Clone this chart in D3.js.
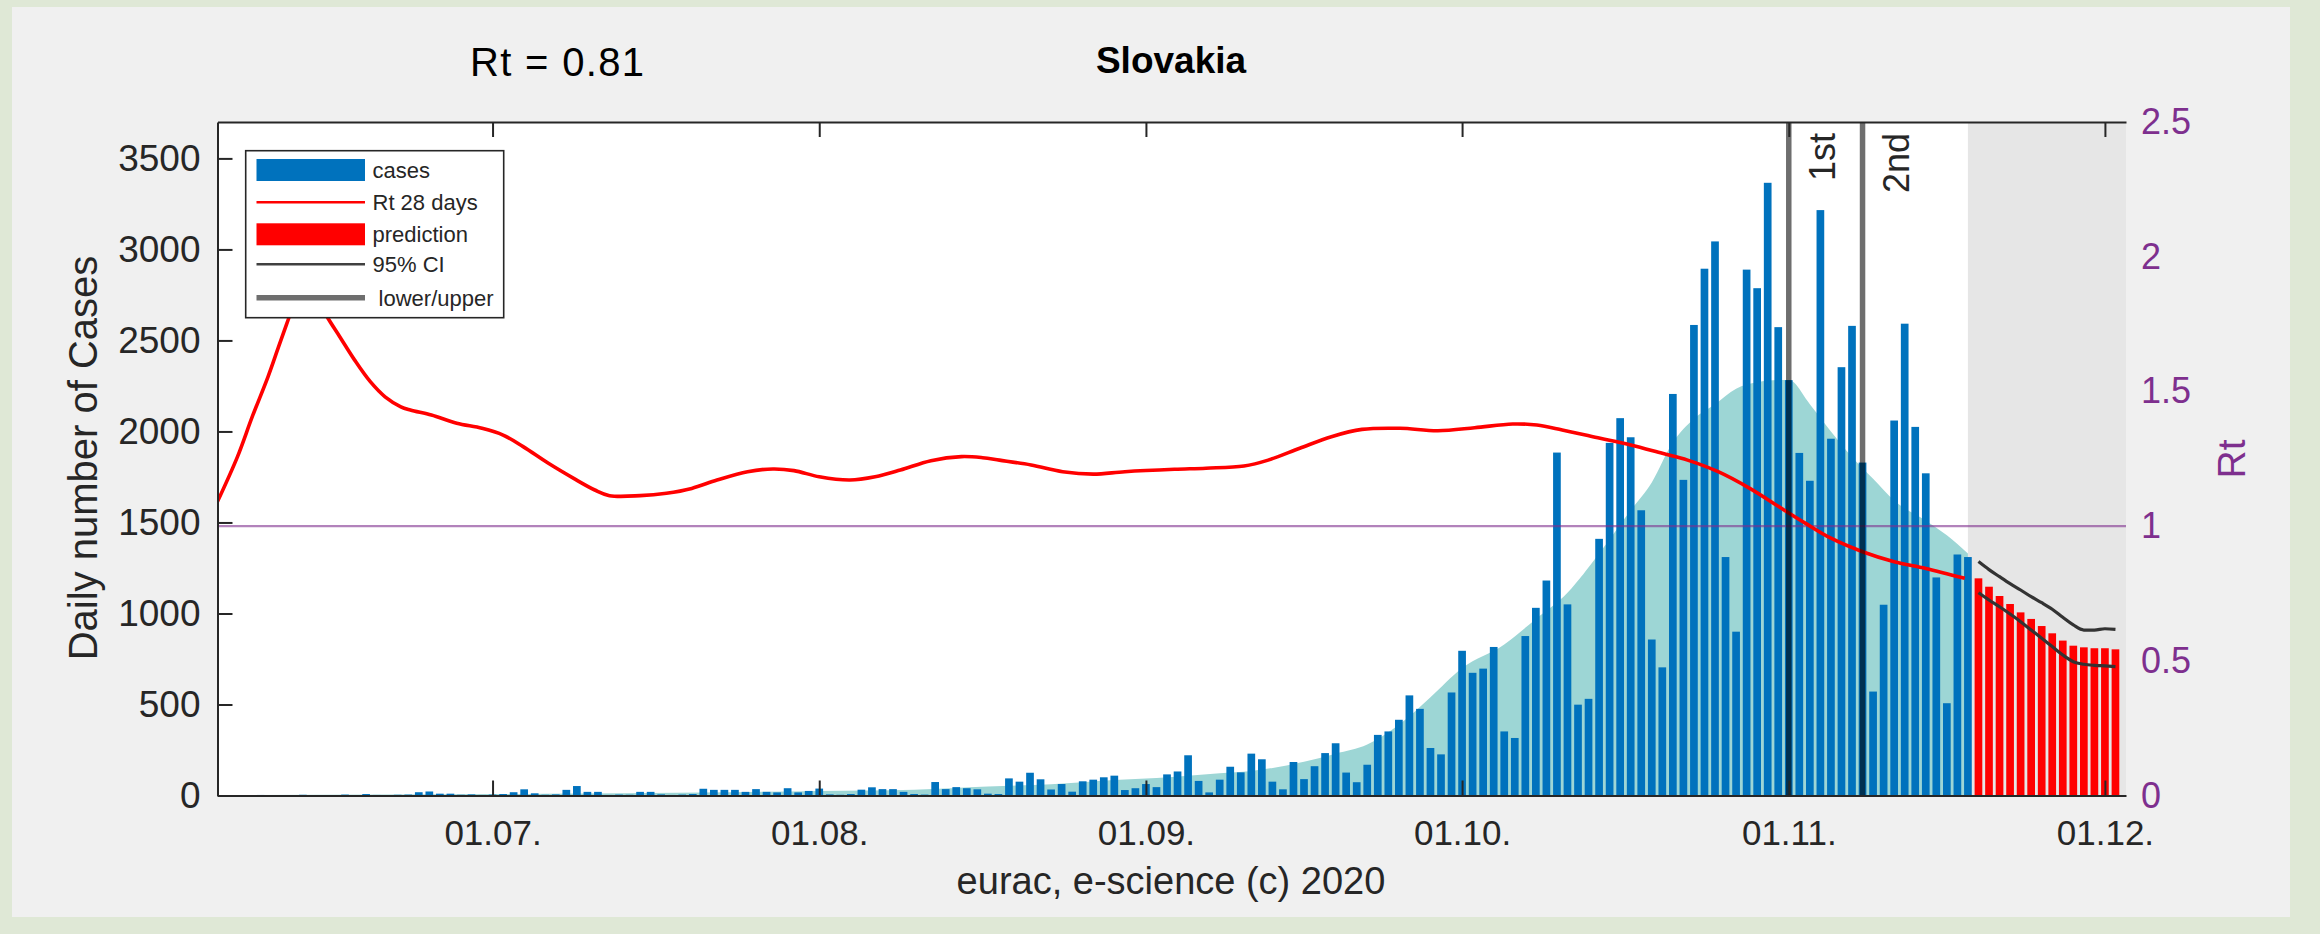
<!DOCTYPE html>
<html><head><meta charset="utf-8">
<script src="https://cdn.jsdelivr.net/npm/d3@7"></script>
<style>
html,body{margin:0;padding:0;background:#dfe8d6;}
svg{display:block;}
</style></head><body>
<svg id="chart" width="2320" height="934"></svg>
<script>
// ---------------- DATA ----------------
const caseStart = "2020-06-06";
const cases = [
  2,0,1,3,0,2,1,4,0,1,
  2,5,1,8,3,2,4,5,18,22,
  10,10,4,6,3,5,8,18,34,12,
  4,6,31,52,20,20,3,5,4,20,
  20,6,3,5,8,37,31,31,31,20,
  35,20,17,40,17,25,38,6,4,8,
  32,45,35,35,20,8,5,74,35,46,
  40,34,10,8,94,76,125,89,33,63,
  21,78,87,100,109,30,40,63,46,116,
  132,221,80,17,87,158,127,230,199,76,
  34,184,90,161,233,287,126,73,169,333,
  352,416,550,476,261,226,566,795,674,697,
  816,352,316,876,1031,1181,1884,1050,499,531,
  1410,1937,2073,1968,1567,857,704,2206,1734,2585,
  2894,3044,1310,900,2889,2787,3366,2573,2282,1882,
  1729,3216,1960,2353,2580,1829,571,1048,2060,2592,
  2025,1770,1198,507,1324,1310
];
const predStart = "2020-11-19";
const prediction = [1193,1147,1096,1052,1006,970,931,891,851,823,814,809,809,803];
const ciUpper = [1285,1241,1202,1164,1129,1092,1059,1023,979,937,909,909,916,913];
const ciLower = [1114,1074,1037,997,955,909,864,818,772,735,721,715,712,708];

// Rt curve: days since 2020-06-01, Rt value
const rtDays = [3.9,5.8,7.2,8.7,9.7,10.6,11.5,12.4,13.3,14.3,15.5,16.9,18.4,19.8,21.3,22.2,24.2,26.6,29.0,31.0,32.9,35.3,37.7,39.7,41.1,44.0,46.5,48.9,51.3,54.2,56.6,58.6,61.0,63.9,66.3,68.7,71.6,74.5,76.5,78.1,81.1,84.1,87.0,90.0,94.7,97.7,101.3,103.6,106.6,109.6,112.5,116.1,119.7,123.2,126.8,129.1,131.5,135.1,138.0,141.0,143.4,146.3,149.3,152.3,154.6,157.0,160.0,163.0,166.0,169.7];
const rtValues = [1.091,1.258,1.406,1.555,1.666,1.765,1.86,1.89,1.85,1.777,1.703,1.617,1.536,1.480,1.443,1.431,1.412,1.382,1.363,1.338,1.295,1.233,1.177,1.134,1.113,1.113,1.122,1.140,1.171,1.202,1.212,1.206,1.183,1.171,1.183,1.208,1.243,1.258,1.254,1.245,1.227,1.202,1.193,1.202,1.211,1.215,1.223,1.245,1.289,1.332,1.359,1.363,1.354,1.365,1.379,1.375,1.357,1.326,1.301,1.270,1.245,1.202,1.140,1.066,1.010,0.955,0.905,0.868,0.843,0.806];

// smoothed cases (teal area): days since 2020-06-01, value
const smoothDays = [5,20,35,50,61,70,77,83,89,93,99,102,107,110,113,116,119,122,126,129,132,135,138,140,142,144,146,148,150,152,153,155,157,159,161,163,166,168,170];
const smoothValues = [2,5,10,17,25,32,50,62,85,96,122,135,185,230,280,388,540,700,830,970,1114,1329,1567,1720,1940,2070,2150,2235,2270,2282,2282,2150,2000,1860,1740,1620,1510,1430,1329];

const xTickDates = ["2020-07-01","2020-08-01","2020-09-01","2020-10-01","2020-11-01","2020-12-01"];
const xTickLabels = ["01.07.","01.08.","01.09.","01.10.","01.11.","01.12."];
const yLeftTicks = [0,500,1000,1500,2000,2500,3000,3500];
const yRightTicks = [0,0.5,1,1.5,2,2.5];
const yRightLabels = ["0","0.5","1","1.5","2","2.5"];
const markerDates = ["2020-11-01","2020-11-08"];
const markerLabels = ["1st","2nd"];
const forecastFrom = "2020-11-18";
const legendLabels = ["cases","Rt 28 days","prediction","95% CI"," lower/upper"];

// ---------------- DRAW ----------------
const svg = d3.select("#chart");
const FONT = "'Liberation Sans', Arial, Helvetica, sans-serif";
const DAY = 864e5, base = Date.UTC(2020,5,1);
const toDate = d => new Date(base + d*DAY);
const parse = s => new Date(s + "T00:00:00Z");
const addDays = (s,i) => new Date(parse(s).getTime() + i*DAY);

const L = 217.5, R = 2126, T = 122, B = 795.5;
const x = d3.scaleUtc().domain([toDate(3.9), toDate(185)]).range([L, R]);
const yL = d3.scaleLinear().domain([0, 3700]).range([B, T]);
const yR = d3.scaleLinear().domain([0, 2.5]).range([B, T]);

// figure background
svg.append("rect").attr("x",12).attr("y",7).attr("width",2278).attr("height",910).attr("fill","#f0f0f0");

svg.append("defs").append("clipPath").attr("id","plotclip")
  .append("rect").attr("x",L).attr("y",T).attr("width",R-L).attr("height",B-T);

svg.append("rect").attr("x",L).attr("y",T).attr("width",R-L).attr("height",B-T).attr("fill","#ffffff");

const plot = svg.append("g").attr("clip-path","url(#plotclip)");

// forecast shading
const fx = x(parse(forecastFrom));
plot.append("rect").attr("x",fx).attr("y",T).attr("width",R-fx).attr("height",B-T).attr("fill","#e6e6e6");

// teal smoothed area
const smooth = smoothDays.map((d,i)=>[d, smoothValues[i]]);
plot.append("path").datum(smooth)
  .attr("d", d3.area().x(d=>x(toDate(d[0]))).y0(B).y1(d=>yL(d[1])).curve(d3.curveMonotoneX))
  .attr("fill","#9dd6d5");

// bars
const step = x(toDate(1)) - x(toDate(0));
const bw = step*0.73;
plot.append("g").selectAll("rect").data(cases).join("rect")
  .attr("x",(d,i)=>x(addDays(caseStart,i))-bw/2)
  .attr("y",d=>yL(d)).attr("width",bw).attr("height",d=>B-yL(d))
  .attr("fill","#0072bd");
plot.append("g").selectAll("rect").data(prediction).join("rect")
  .attr("x",(d,i)=>x(addDays(predStart,i))-bw/2)
  .attr("y",d=>yL(d)).attr("width",bw).attr("height",d=>B-yL(d))
  .attr("fill","#ff0000");

// CI lines
const ciLine = d3.line().x((d,i)=>x(addDays(predStart,i))).y(d=>yL(d)).curve(d3.curveMonotoneX);
[ciUpper, ciLower].forEach(arr=>{
  plot.append("path").datum(arr).attr("d",ciLine).attr("fill","none")
    .attr("stroke","#333333").attr("stroke-width",3.2);
});

// purple Rt=1
plot.append("line").attr("x1",L).attr("x2",R).attr("y1",yR(1)).attr("y2",yR(1))
  .attr("stroke","#7e2f8e").attr("stroke-opacity",0.6).attr("stroke-width",2.4);

// Rt line
const rt = rtDays.map((d,i)=>[d, rtValues[i]]);
plot.append("path").datum(rt)
  .attr("d", d3.line().x(d=>x(toDate(d[0]))).y(d=>yR(d[1])).curve(d3.curveCatmullRom.alpha(0.5)))
  .attr("fill","none").attr("stroke","#ff0000").attr("stroke-width",3.6);

// markers
markerDates.forEach((m,i)=>{
  const mx = x(parse(m));
  plot.append("line").attr("x1",mx).attr("x2",mx).attr("y1",T).attr("y2",B)
    .attr("stroke","#000").attr("stroke-opacity",0.57).attr("stroke-width",5.5);
  svg.append("text").attr("transform",`translate(${mx+46.5},133) rotate(-90)`)
    .attr("text-anchor","end").attr("font-family",FONT).attr("font-size",36)
    .attr("fill","#262626").text(markerLabels[i]);
});

// axes
const axColor = "#262626";
const gx = svg.append("g").attr("transform",`translate(0,${B})`)
  .call(d3.axisBottom(x).tickValues(xTickDates.map(parse)).tickFormat((d,i)=>xTickLabels[i])
        .tickSizeInner(-15).tickSizeOuter(0).tickPadding(25));
const gxt = svg.append("g").attr("transform",`translate(0,${T})`)
  .call(d3.axisTop(x).tickValues(xTickDates.map(parse)).tickFormat("")
        .tickSizeInner(-15).tickSizeOuter(0));
const gy = svg.append("g").attr("transform",`translate(${L},0)`)
  .call(d3.axisLeft(yL).tickValues(yLeftTicks).tickFormat(d3.format("d"))
        .tickSizeInner(-15).tickSizeOuter(0).tickPadding(17));
const gyr = svg.append("g").attr("transform",`translate(${R},0)`)
  .call(d3.axisRight(yR).tickValues(yRightTicks).tickFormat((d,i)=>yRightLabels[i])
        .tickSizeInner(0).tickSizeOuter(0).tickPadding(15));
gyr.select(".domain").remove();
gyr.selectAll("line").remove();
[gx,gxt,gy].forEach(g=>{
  g.select(".domain").attr("stroke",axColor).attr("stroke-width",2);
  g.selectAll(".tick line").attr("stroke",axColor).attr("stroke-width",2);
});
gx.selectAll("text").attr("font-family",FONT).attr("font-size",35).attr("fill",axColor);
gy.selectAll("text").attr("font-family",FONT).attr("font-size",37).attr("fill",axColor);
gyr.selectAll("text").attr("font-family",FONT).attr("font-size",36).attr("fill","#7e2f8e");

// axis labels
svg.append("text").attr("transform","translate(97,458) rotate(-90)").attr("text-anchor","middle")
  .attr("font-family",FONT).attr("font-size",40).attr("fill",axColor).text("Daily number of Cases");
svg.append("text").attr("transform","translate(2245,459) rotate(-90)").attr("text-anchor","middle")
  .attr("font-family",FONT).attr("font-size",39).attr("fill","#7e2f8e").text("Rt");
svg.append("text").attr("x",1171).attr("y",894).attr("text-anchor","middle")
  .attr("font-family",FONT).attr("font-size",38).attr("fill",axColor).text("eurac, e-science (c) 2020");

// titles
svg.append("text").attr("x",1171).attr("y",72.5).attr("text-anchor","middle")
  .attr("font-family",FONT).attr("font-weight","bold").attr("font-size",37).attr("fill","#000").text("Slovakia");
svg.append("text").attr("x",470).attr("y",76).attr("textLength",174).attr("lengthAdjust","spacing")
  .attr("font-family",FONT).attr("font-size",40).attr("fill","#000").text("Rt = 0.81");

// legend
const lg = svg.append("g");
lg.append("rect").attr("x",245.7).attr("y",150.7).attr("width",258).attr("height",167)
  .attr("fill","#fff").attr("stroke",axColor).attr("stroke-width",1.6);
const rowY = [170, 202.3, 234.3, 264.3, 297.7];
const lx1 = 256.5, lx2 = 365;
lg.append("rect").attr("x",lx1).attr("y",rowY[0]-11).attr("width",lx2-lx1).attr("height",22).attr("fill","#0072bd");
lg.append("line").attr("x1",lx1).attr("x2",lx2).attr("y1",rowY[1]).attr("y2",rowY[1]).attr("stroke","#ff0000").attr("stroke-width",2.5);
lg.append("rect").attr("x",lx1).attr("y",rowY[2]-11).attr("width",lx2-lx1).attr("height",22).attr("fill","#ff0000");
lg.append("line").attr("x1",lx1).attr("x2",lx2).attr("y1",rowY[3]).attr("y2",rowY[3]).attr("stroke","#404040").attr("stroke-width",2.5);
lg.append("line").attr("x1",lx1).attr("x2",lx2).attr("y1",rowY[4]).attr("y2",rowY[4]).attr("stroke","#6e6e6e").attr("stroke-width",5.5);
legendLabels.forEach((t,i)=>{
  lg.append("text").attr("x",372.5).attr("y",rowY[i]+8).attr("font-family",FONT).attr("font-size",22)
    .attr("fill",axColor).attr("xml:space","preserve").style("white-space","pre").text(t);
});
</script>
</body></html>
